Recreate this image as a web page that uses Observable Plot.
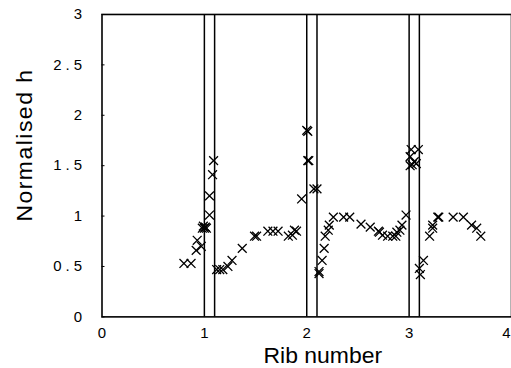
<!DOCTYPE html>
<html>
<head>
<meta charset="utf-8">
<script src="https://cdn.jsdelivr.net/npm/d3@7"></script>
<script src="https://cdn.jsdelivr.net/npm/@observablehq/plot@0.6"></script>
<style>
  html, body { margin: 0; padding: 0; background: white; overflow: hidden; }
  #chart svg { display: block; }
  [aria-label="x-axis label"] text, [aria-label="y-axis label"] text { font-size: 23px; font-family: "Liberation Sans", Arial, sans-serif; }
  [aria-label="x-axis tick label"] text, [aria-label="y-axis tick label"] text { font-size: 15px; font-family: "Liberation Sans Narrow", "Liberation Sans", sans-serif; }
  [aria-label="y-axis tick label"] text { letter-spacing: 4px; }
  [aria-label="y-axis label"] text { letter-spacing: 1.5px; }
</style>
</head>
<body>
<div id="chart"></div>
<script>
// Rib number (x) and normalised h (y) of each measured point
const ribX = [
  0.80, 0.87, 0.92, 0.93, 0.97, 0.98, 0.99, 1.00, 1.01, 1.02,
  1.05, 1.05, 1.08, 1.09, 1.12, 1.15, 1.18, 1.23, 1.27, 1.37,
  1.49, 1.51, 1.62, 1.67, 1.72, 1.82, 1.86, 1.88, 1.90, 1.95,
  2.00, 2.01, 2.01, 2.02, 2.07, 2.10, 2.12, 2.12, 2.15, 2.17,
  2.18, 2.21, 2.22, 2.26, 2.36, 2.42, 2.53, 2.62, 2.70, 2.71,
  2.74, 2.79, 2.84, 2.87, 2.88, 2.91, 2.93, 2.97, 3.01, 3.01,
  3.02, 3.03, 3.05, 3.07, 3.09, 3.10, 3.11, 3.14, 3.20, 3.23,
  3.23, 3.28, 3.29, 3.43, 3.53, 3.61, 3.66, 3.70
];
const normH = [
  0.53, 0.53, 0.66, 0.76, 0.70, 0.88, 0.90, 0.88, 0.89, 0.88,
  1.01, 1.20, 1.41, 1.55, 0.47, 0.47, 0.47, 0.50, 0.56, 0.68,
  0.80, 0.80, 0.85, 0.85, 0.85, 0.80, 0.81, 0.86, 0.85, 1.17,
  1.85, 1.84, 1.55, 1.55, 1.27, 1.27, 0.43, 0.45, 0.56, 0.68,
  0.80, 0.86, 0.91, 0.99, 0.99, 0.99, 0.92, 0.89, 0.85, 0.84,
  0.81, 0.80, 0.80, 0.80, 0.84, 0.86, 0.91, 1.01, 1.59, 1.50,
  1.66, 1.51, 1.54, 1.52, 1.66, 0.48, 0.42, 0.56, 0.80, 0.88,
  0.91, 0.99, 0.99, 0.99, 0.99, 0.91, 0.88, 0.80
];
// Vertical reference lines bounding each rib
const ribLines = [1.0, 1.1, 2.0, 2.1, 3.0, 3.1];
const xTicks = [0, 1, 2, 3, 4];
const yTicks = [0, 0.5, 1, 1.5, 2, 2.5, 3];

const points = ribX.map((x, i) => ({rib: x, h: normH[i]}));

const chart = Plot.plot({
  width: 512,
  height: 368,
  marginLeft: 101.7,
  marginRight: 0,
  marginTop: 14,
  marginBottom: 51,
  style: {background: "white", color: "black", overflow: "visible"},
  x: {domain: [0, 4]},
  y: {domain: [0, 3]},
  marks: [
    Plot.frame({stroke: "black", strokeWidth: 1.6}),
    Plot.ruleX(ribLines, {stroke: "black", strokeWidth: 1.5}),
    Plot.dot(points, {x: "rib", y: "h", symbol: "times", r: 4.1, stroke: "black", strokeWidth: 1.3}),
    Plot.axisX({ticks: xTicks, tickSize: 0, tickPadding: 10, tickFormat: d => String(d), label: "Rib number", labelAnchor: "center", labelArrow: "none"}),
    Plot.axisY({ticks: yTicks, tickSize: -3, tickPadding: 19, tickFormat: d => String(d), label: "Normalised h", labelAnchor: "center", labelArrow: "none"})
  ]
});
document.getElementById("chart").appendChild(chart);

// Place axis titles where the reference has them (centre of their boxes)
function placeAt(sel, cx, cy) {
  const g = chart.querySelector(sel);
  if (!g) return;
  const svgRect = chart.getBoundingClientRect();
  const r = g.getBoundingClientRect();
  const dx = cx - (r.left - svgRect.left + r.width / 2);
  const dy = cy - (r.top - svgRect.top + r.height / 2);
  const prev = g.getAttribute("transform") || "";
  g.setAttribute("transform", `translate(${dx},${dy}) ${prev}`);
}
placeAt('[aria-label="x-axis label"]', 323, 355);
placeAt('[aria-label="y-axis label"]', 24, 145);

// keep the last x tick label ("4") inside the window, as in the reference
const xl = chart.querySelectorAll('[aria-label="x-axis tick label"] text');
if (xl.length) {
  const last = xl[xl.length - 1];
  last.setAttribute("text-anchor", "end");
  last.setAttribute("dx", "-1");
}
</script>
</body>
</html>
